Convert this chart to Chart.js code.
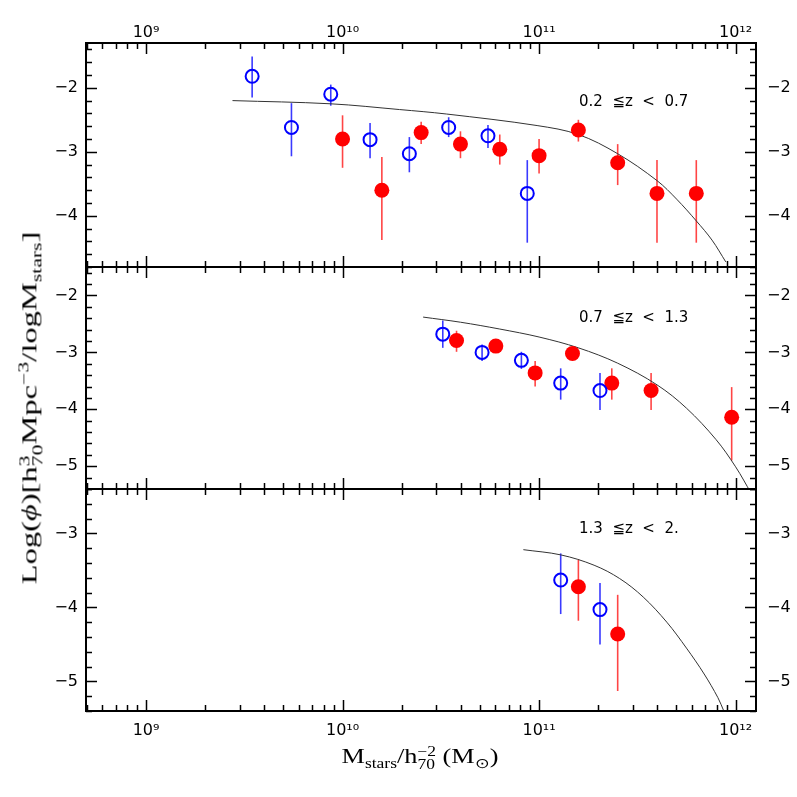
<!DOCTYPE html>
<html>
<head>
<meta charset="utf-8">
<script src="https://cdn.jsdelivr.net/npm/chart.js@4.4.1/dist/chart.umd.min.js"></script>
<style>
  html, body { margin: 0; padding: 0; background: #fff; }
  #wrap { position: relative; width: 797px; height: 797px; overflow: hidden; }
  #wrap canvas { position: absolute; left: 0; top: 0; }
  .title { position: absolute; font-family: "Liberation Serif", serif; font-size: 21px; color: #000; white-space: nowrap; line-height: 30px; }
  #ytitle { left: 31px; top: 408px; transform: translate(-50%, -50%) rotate(-90deg) scaleX(1.55); }
  #xtitle { left: 420px; top: 760px; transform: translate(-50%, -50%) scaleX(1.25); }
  .title sub, .title sup { font-size: 14px; }
  .ss { display: inline-flex; flex-direction: column; font-size: 14px; line-height: 13px; vertical-align: 7px; }
</style>
</head>
<body>
<div id="wrap">
  <canvas id="c1" width="797" height="797"></canvas>
  <canvas id="c2" width="797" height="797"></canvas>
  <canvas id="c3" width="797" height="797"></canvas>
  <div class="title" id="ytitle">Log(<i>ϕ</i>)[h<span class="ss"><span>3</span><span>70</span></span>Mpc<sup>−3</sup>/logM<sub>stars</sub>]</div>
  <div class="title" id="xtitle">M<sub>stars</sub>/h<span class="ss"><span>−2</span><span>70</span></span> (M<sub>⊙</sub>)</div>
</div>
<script>
// shared x axis (stellar mass)
const xMin = 4.95e8;
const xMax = 1.27e12;
const xTickValues = [1e9, 1e10, 1e11, 1e12];
const xTickLabels = ['10⁹', '10¹⁰', '10¹¹', '10¹²'];

// panel 1: 0.2 <= z < 0.7
const p1Label = '0.2  ≦z  <  0.7';
const p1Range = [-4.8, -1.3];
const p1YTicks = [-2, -3, -4];
const p1BlueLogM = [9.54, 9.74, 9.94, 10.14, 10.34, 10.54, 10.74, 10.94];
const p1BlueY = [-1.82, -2.62, -2.10, -2.81, -3.03, -2.62, -2.75, -3.65];
const p1BlueHi = [-1.51, -2.24, -1.95, -2.55, -2.77, -2.46, -2.58, -3.13];
const p1BlueLo = [-2.15, -3.07, -2.28, -3.10, -3.32, -2.77, -2.94, -4.42];
const p1RedLogM = [10.00, 10.20, 10.40, 10.60, 10.80, 11.00, 11.20, 11.40, 11.60, 11.80];
const p1RedY = [-2.80, -3.60, -2.70, -2.88, -2.96, -3.06, -2.66, -3.17, -3.65, -3.65];
const p1RedHi = [-2.43, -3.08, -2.53, -2.68, -2.73, -2.80, -2.50, -2.88, -3.13, -3.13];
const p1RedLo = [-3.25, -4.38, -2.88, -3.10, -3.20, -3.34, -2.84, -3.52, -4.42, -4.42];
const p1CurveLogM = [9.44, 9.94, 10.29, 10.53, 10.99, 11.20, 11.40, 11.60, 11.70, 11.80, 11.88, 11.95];
const p1CurveY = [-2.20, -2.25, -2.34, -2.41, -2.59, -2.73, -3.03, -3.45, -3.74, -4.08, -4.38, -4.72];

// panel 2: 0.7 <= z < 1.3
const p2Label = '0.7  ≦z  <  1.3';
const p2Range = [-5.4, -1.5];
const p2YTicks = [-2, -3, -4, -5];
const p2BlueLogM = [10.51, 10.71, 10.91, 11.11, 11.31];
const p2BlueY = [-2.68, -3.00, -3.14, -3.54, -3.67];
const p2BlueHi = [-2.44, -2.86, -2.99, -3.28, -3.36];
const p2BlueLo = [-2.92, -3.15, -3.29, -3.83, -4.01];
const p2RedLogM = [10.58, 10.78, 10.98, 11.17, 11.37, 11.57, 11.98];
const p2RedY = [-2.79, -2.89, -3.36, -3.02, -3.54, -3.67, -4.14];
const p2RedHi = [-2.62, -2.80, -3.15, -2.95, -3.28, -3.36, -3.61];
const p2RedLo = [-2.99, -2.98, -3.60, -3.09, -3.83, -4.01, -4.90];
const p2CurveLogM = [10.41, 10.60, 10.80, 11.00, 11.20, 11.40, 11.60, 11.75, 11.90, 12.00, 12.08];
const p2CurveY = [-2.38, -2.47, -2.59, -2.73, -2.92, -3.19, -3.57, -3.98, -4.53, -5.01, -5.48];

// panel 3: 1.3 <= z < 2
const p3Label = '1.3  ≦z  <  2.';
const p3Range = [-5.4, -2.4];
const p3YTicks = [-3, -4, -5];
const p3BlueLogM = [11.11, 11.31];
const p3BlueY = [-3.63, -4.03];
const p3BlueHi = [-3.27, -3.67];
const p3BlueLo = [-4.09, -4.50];
const p3RedLogM = [11.20, 11.40];
const p3RedY = [-3.72, -4.36];
const p3RedHi = [-3.35, -3.83];
const p3RedLo = [-4.18, -5.13];
const p3CurveLogM = [10.92, 11.11, 11.28, 11.41, 11.53, 11.65, 11.75, 11.84, 11.91, 11.94];
const p3CurveY = [-3.22, -3.29, -3.43, -3.61, -3.86, -4.20, -4.55, -4.90, -5.22, -5.40];

const pts = (logM, y) => logM.map((m, i) => ({ x: Math.pow(10, m), y: y[i] }));

// inward ticks, frame, error bars and the redshift label
const framePlugin = {
  id: 'frame',
  beforeDatasetsDraw(chart) {
    const ctx = chart.ctx;
    const xs = chart.scales.x, ys = chart.scales.y;
    chart.data.datasets.forEach(ds => {
      if (!ds.errHi) return;
      ctx.save();
      ctx.strokeStyle = ds.errColor;
      ctx.lineWidth = 1.6;
      ds.data.forEach((pt, i) => {
        const px = xs.getPixelForValue(pt.x);
        ctx.beginPath();
        ctx.moveTo(px, ys.getPixelForValue(ds.errHi[i]));
        ctx.lineTo(px, ys.getPixelForValue(ds.errLo[i]));
        ctx.stroke();
      });
      ctx.restore();
    });
  },
  afterDraw(chart, args, opts) {
    const ctx = chart.ctx, a = chart.chartArea;
    const xs = chart.scales.x, ys = chart.scales.y;
    ctx.save();
    ctx.strokeStyle = '#000';
    ctx.lineWidth = 1.5;
    ctx.beginPath();
    for (let e = 8; e <= 12; e++) {
      for (let k = 1; k <= 9; k++) {
        const v = k * Math.pow(10, e);
        if (v < xMin || v > xMax) continue;
        const px = Math.round(xs.getPixelForValue(v)) + 0.5;
        const len = k === 1 ? 11 : 6;
        ctx.moveTo(px, a.top); ctx.lineTo(px, a.top + len);
        ctx.moveTo(px, a.bottom); ctx.lineTo(px, a.bottom - len);
      }
    }
    for (let t = Math.ceil(ys.min * 5); t <= Math.floor(ys.max * 5); t++) {
      const py = Math.round(ys.getPixelForValue(t / 5)) + 0.5;
      const len = t % 5 === 0 ? 11 : 6;
      ctx.moveTo(a.left, py); ctx.lineTo(a.left + len, py);
      ctx.moveTo(a.right, py); ctx.lineTo(a.right - len, py);
    }
    ctx.stroke();
    ctx.lineWidth = 2;
    ctx.strokeRect(a.left, a.top, a.right - a.left, a.bottom - a.top);
    ctx.fillStyle = '#000';
    ctx.font = '15px "DejaVu Sans"';
    ctx.textBaseline = 'middle';
    ctx.fillText(opts.label, opts.labelX, opts.labelY);
    ctx.restore();
  }
};

function makePanel(id, p) {
  const xOpts = {
    type: 'logarithmic',
    min: xMin,
    max: xMax,
    position: p.xPos === 'bottom' ? 'bottom' : 'top',
    display: p.xPos !== 'none',
    grid: { display: false, drawTicks: false },
    border: { display: false },
    afterBuildTicks: s => { s.ticks = xTickValues.map(v => ({ value: v })); },
    ticks: {
      autoSkip: false, maxRotation: 0, minRotation: 0,
      padding: p.xPos === 'top' ? 1 : 10,
      color: '#000',
      font: { family: 'DejaVu Sans', size: 16 },
      callback: v => xTickLabels[xTickValues.indexOf(v)]
    }
  };
  if (p.xPos === 'top') xOpts.afterFit = s => { s.height = p.top; };
  if (p.xPos === 'bottom') xOpts.afterFit = s => { s.height = 797 - p.bottom; };

  const yOpts = pos => ({
    type: 'linear',
    position: pos,
    min: p.range[0],
    max: p.range[1],
    grid: { display: false, drawTicks: false },
    border: { display: false },
    afterBuildTicks: s => { s.ticks = p.yTicks.map(v => ({ value: v })); },
    afterFit: s => { s.width = pos === 'left' ? 86 : 41; },
    ticks: {
      padding: pos === 'left' ? 8 : 11,
      color: '#000',
      font: { family: 'DejaVu Sans', size: 16 },
      callback: v => '−' + Math.abs(v)
    }
  });

  return new Chart(document.getElementById(id), {
    type: 'scatter',
    data: {
      datasets: [
        {
          data: pts(p.blueM, p.blueY),
          errHi: p.blueHi, errLo: p.blueLo, errColor: '#3a3aff',
          pointStyle: 'circle', pointRadius: 6.5,
          borderColor: '#0000ff', borderWidth: 2,
          backgroundColor: 'rgba(0,0,0,0)'
        },
        {
          data: pts(p.redM, p.redY),
          errHi: p.redHi, errLo: p.redLo, errColor: '#ff4545',
          pointStyle: 'circle', pointRadius: 7.5,
          borderColor: '#ff0000', borderWidth: 0,
          backgroundColor: '#ff0000'
        },
        {
          data: pts(p.curveM, p.curveY),
          showLine: true, pointRadius: 0,
          borderColor: '#333', borderWidth: 1,
          tension: 0.35
        }
      ]
    },
    options: {
      responsive: false,
      animation: false,
      events: [],
      layout: {
        autoPadding: false,
        padding: {
          left: 0, right: 0,
          top: p.xPos === 'top' ? 0 : p.top,
          bottom: p.xPos === 'bottom' ? 0 : 797 - p.bottom
        }
      },
      scales: { x: xOpts, y: yOpts('left'), y2: yOpts('right') },
      plugins: {
        legend: { display: false },
        tooltip: { enabled: false },
        frame: { label: p.label, labelX: 579, labelY: p.labelY }
      }
    },
    plugins: [framePlugin]
  });
}

makePanel('c1', {
  top: 43, bottom: 267, xPos: 'top', range: p1Range, yTicks: p1YTicks,
  label: p1Label, labelY: 102,
  blueM: p1BlueLogM, blueY: p1BlueY, blueHi: p1BlueHi, blueLo: p1BlueLo,
  redM: p1RedLogM, redY: p1RedY, redHi: p1RedHi, redLo: p1RedLo,
  curveM: p1CurveLogM, curveY: p1CurveY
});
makePanel('c2', {
  top: 267, bottom: 489, xPos: 'none', range: p2Range, yTicks: p2YTicks,
  label: p2Label, labelY: 318,
  blueM: p2BlueLogM, blueY: p2BlueY, blueHi: p2BlueHi, blueLo: p2BlueLo,
  redM: p2RedLogM, redY: p2RedY, redHi: p2RedHi, redLo: p2RedLo,
  curveM: p2CurveLogM, curveY: p2CurveY
});
makePanel('c3', {
  top: 489, bottom: 711, xPos: 'bottom', range: p3Range, yTicks: p3YTicks,
  label: p3Label, labelY: 529,
  blueM: p3BlueLogM, blueY: p3BlueY, blueHi: p3BlueHi, blueLo: p3BlueLo,
  redM: p3RedLogM, redY: p3RedY, redHi: p3RedHi, redLo: p3RedLo,
  curveM: p3CurveLogM, curveY: p3CurveY
});
</script>
</body>
</html>
